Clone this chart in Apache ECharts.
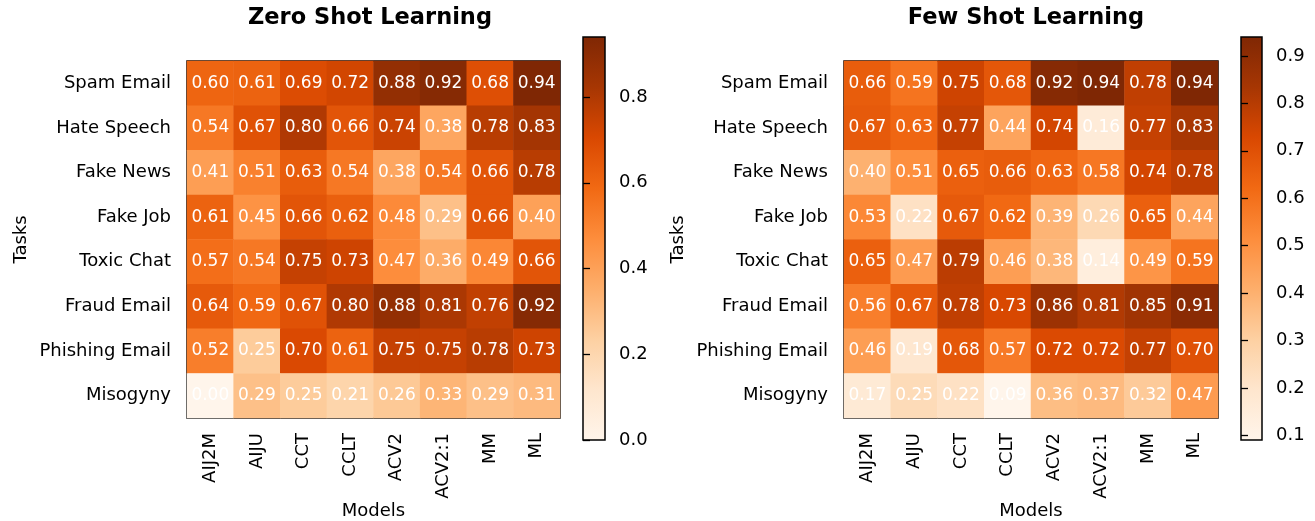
<!DOCTYPE html>
<html>
<head>
<meta charset="utf-8">
<script src="https://cdn.jsdelivr.net/npm/echarts@6/dist/echarts.min.js"></script>
<style>
  html, body { margin: 0; padding: 0; background: #fff; }
  #chart { width: 1315px; height: 521px; }
</style>
</head>
<body>
<div id="chart"></div>
<script>
  var models = ['AIJ2M', 'AIJU', 'CCT', 'CCLT', 'ACV2', 'ACV2:1', 'MM', 'ML']
  var tasks = ['Spam Email', 'Hate Speech', 'Fake News', 'Fake Job', 'Toxic Chat', 'Fraud Email', 'Phishing Email', 'Misogyny']

  // rows follow tasks, columns follow models
  var zeroShot = [
    [0.60, 0.61, 0.69, 0.72, 0.88, 0.92, 0.68, 0.94],
    [0.54, 0.67, 0.80, 0.66, 0.74, 0.38, 0.78, 0.83],
    [0.41, 0.51, 0.63, 0.54, 0.38, 0.54, 0.66, 0.78],
    [0.61, 0.45, 0.66, 0.62, 0.48, 0.29, 0.66, 0.40],
    [0.57, 0.54, 0.75, 0.73, 0.47, 0.36, 0.49, 0.66],
    [0.64, 0.59, 0.67, 0.80, 0.88, 0.81, 0.76, 0.92],
    [0.52, 0.25, 0.70, 0.61, 0.75, 0.75, 0.78, 0.73],
    [0.00, 0.29, 0.25, 0.21, 0.26, 0.33, 0.29, 0.31]
  ]
  var fewShot = [
    [0.66, 0.59, 0.75, 0.68, 0.92, 0.94, 0.78, 0.94],
    [0.67, 0.63, 0.77, 0.44, 0.74, 0.16, 0.77, 0.83],
    [0.40, 0.51, 0.65, 0.66, 0.63, 0.58, 0.74, 0.78],
    [0.53, 0.22, 0.67, 0.62, 0.39, 0.26, 0.65, 0.44],
    [0.65, 0.47, 0.79, 0.46, 0.38, 0.14, 0.49, 0.59],
    [0.56, 0.67, 0.78, 0.73, 0.86, 0.81, 0.85, 0.91],
    [0.46, 0.19, 0.68, 0.57, 0.72, 0.72, 0.77, 0.70],
    [0.17, 0.25, 0.22, 0.09, 0.36, 0.37, 0.32, 0.47]
  ]

  var zeroRange = [0.0, 0.94]
  var fewRange = [0.09, 0.94]
  var zeroTicks = [0.0, 0.2, 0.4, 0.6, 0.8]
  var fewTicks = [0.1, 0.2, 0.3, 0.4, 0.5, 0.6, 0.7, 0.8, 0.9]

  // matplotlib "Oranges"
  var oranges = ['#fff5eb', '#fee6ce', '#fdd0a2', '#fdae6b', '#fd8d3c', '#f16913', '#d94801', '#a63603', '#7f2704']

  var font = 'DejaVu Sans'

  function toCells(rows) {
    var out = []
    rows.forEach(function (row, i) {
      row.forEach(function (v, j) {
        out.push([j, i, v])
      })
    })
    return out
  }

  function barGradient() {
    var stops = oranges.map(function (c, i) {
      return { offset: 1 - i / (oranges.length - 1), color: c }
    })
    return new echarts.graphic.LinearGradient(0, 0, 0, 1, stops.reverse())
  }

  var mapGrids = [
    { left: 187, top: 61, width: 373, height: 357 },
    { left: 844, top: 61, width: 374, height: 357 }
  ]
  var barGrids = [
    { left: 583, top: 37, width: 22, height: 403 },
    { left: 1241, top: 37, width: 21, height: 403 }
  ]

  var grid = []
  mapGrids.forEach(function (g) {
    grid.push(Object.assign({ show: true, outerBoundsMode: 'none', containLabel: false, borderColor: '#000', borderWidth: 1.5, backgroundColor: 'transparent' }, g))
  })
  barGrids.forEach(function (g) {
    grid.push(Object.assign({ show: true, outerBoundsMode: 'none', containLabel: false, borderColor: '#000', borderWidth: 1.5, backgroundColor: barGradient() }, g))
  })

  function catX(idx) {
    return {
      type: 'category', gridIndex: idx, data: models,
      name: 'Models', nameLocation: 'middle', nameGap: 84, nameMoveOverlap: false,
      nameTextStyle: { fontFamily: font, fontSize: 18, color: '#000' },
      axisLine: { show: false },
      axisTick: { alignWithLabel: true, length: 7, lineStyle: { color: '#000', width: 1.3 } },
      axisLabel: { rotate: 90, margin: 15, fontFamily: font, fontSize: 18, color: '#000', interval: 0 },
      splitLine: { show: false }
    }
  }
  function catY(idx) {
    return {
      type: 'category', gridIndex: idx, data: tasks, inverse: true,
      name: 'Tasks', nameLocation: 'middle', nameGap: 157, nameRotate: 90, nameMoveOverlap: false,
      nameTextStyle: { fontFamily: font, fontSize: 18, color: '#000' },
      axisLine: { show: false },
      axisTick: { alignWithLabel: true, length: 7, lineStyle: { color: '#000', width: 1.3 } },
      axisLabel: { margin: 16, fontFamily: font, fontSize: 18, color: '#000', interval: 0 },
      splitLine: { show: false }
    }
  }
  function barY(idx, range, ticks) {
    return {
      type: 'value', gridIndex: idx, position: 'right', min: range[0], max: range[1],
      axisLine: { show: false },
      splitLine: { show: false },
      axisTick: { show: true, customValues: ticks, length: 7, lineStyle: { color: '#000', width: 1.3 } },
      axisLabel: {
        customValues: ticks, margin: 14, fontFamily: font, fontSize: 18, color: '#000',
        formatter: function (v) { return v.toFixed(1) }
      }
    }
  }

  var chart = echarts.init(document.getElementById('chart'), null, { renderer: 'canvas' })
  chart.setOption({
    animation: false,
    backgroundColor: '#fff',
    title: [
      { text: 'Zero Shot Learning', left: 365, top: 2, textAlign: 'center',
        textStyle: { fontFamily: font, fontSize: 22.5, fontWeight: 'bold', color: '#000' } },
      { text: 'Few Shot Learning', left: 1021, top: 2, textAlign: 'center',
        textStyle: { fontFamily: font, fontSize: 22.5, fontWeight: 'bold', color: '#000' } }
    ],
    grid: grid,
    xAxis: [
      catX(0),
      catX(1),
      { type: 'value', gridIndex: 2, show: false },
      { type: 'value', gridIndex: 3, show: false }
    ],
    yAxis: [
      catY(0),
      catY(1),
      barY(2, zeroRange, zeroTicks),
      barY(3, fewRange, fewTicks)
    ],
    visualMap: [
      { type: 'continuous', show: false, seriesIndex: 0, min: zeroRange[0], max: zeroRange[1], inRange: { color: oranges } },
      { type: 'continuous', show: false, seriesIndex: 1, min: fewRange[0], max: fewRange[1], inRange: { color: oranges } }
    ],
    series: [
      {
        name: 'Zero Shot', type: 'heatmap', xAxisIndex: 0, yAxisIndex: 0,
        data: toCells(zeroShot),
        label: {
          show: true, color: '#fff', fontFamily: font, fontSize: 17,
          formatter: function (p) { return p.value[2].toFixed(2) }
        }
      },
      {
        name: 'Few Shot', type: 'heatmap', xAxisIndex: 1, yAxisIndex: 1,
        data: toCells(fewShot),
        label: {
          show: true, color: '#fff', fontFamily: font, fontSize: 17,
          formatter: function (p) { return p.value[2].toFixed(2) }
        }
      }
    ]
  })
</script>
</body>
</html>
